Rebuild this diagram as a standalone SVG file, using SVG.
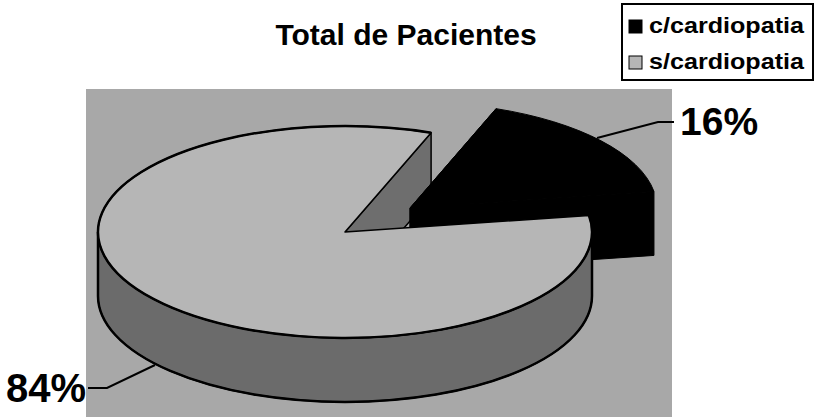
<svg xmlns="http://www.w3.org/2000/svg" width="819" height="420" viewBox="0 0 819 420">
<style>
.t{font-family:"Liberation Sans",Arial,sans-serif;font-weight:bold;fill:#000}
.edge{stroke:#000;stroke-width:1.5;stroke-linejoin:round}
.rim{fill:none;stroke:#000;stroke-width:2.5}
.lead{fill:none;stroke:#000;stroke-width:2}
</style>
<rect width="819" height="420" fill="#fff"/>
<g id="plot-area">
<rect x="86" y="89" width="586" height="328" fill="#a8a8a8"/>
</g>
<g id="title"><text class="t" x="406" y="45" font-size="30" text-anchor="middle">Total de Pacientes</text></g>
<g id="slice-sem">
<path class="edge" fill="#6e6e6e" d="M345,232 L431.1,132.65 L431.1,196.65 L345,296 Z"/>
</g>
<g id="slice-com">
<path fill="#000" stroke="#000" stroke-width="1" d="M410,208 L496.1,108.65 L496.1,172.65 L410,272 Z"/>
<path fill="#000" stroke="#000" stroke-width="1" d="M410,208 L653.96,191.42 L653.96,255.42 L410,272 Z"/>
<path fill="#000" stroke="#000" stroke-width="1" d="M410,208 L653.96,191.42 A247,106 0 0 0 496.1,108.65 Z"/>
</g>
<g id="slice-sem-body">
<path class="edge" fill="#6b6b6b" d="M592,232 A247,106 0 0 1 98,232 L98,296 A247,106 0 0 0 592,296 Z"/>
<path fill="none" stroke="#000" stroke-width="2.5" d="M98,232 L98,296 A247,106 0 0 0 592,296 L592,232"/>
<path class="edge" fill="#b6b6b6" d="M345,232 L588.96,215.42 A247,106 0 1 1 431.1,132.65 Z"/>
<path class="rim" d="M588.96,215.42 A247,106 0 1 1 431.1,132.65"/>
</g>
<g id="connectors">
<polyline class="lead" points="597,138 658,122 674,122"/>
<polyline class="lead" points="88,388 107,388 155,365"/>
</g>
<g id="label-16"><text class="t" x="680" y="135" font-size="39">16%</text></g>
<g id="label-84"><text class="t" x="6" y="402" font-size="40">84%</text></g>
<g id="legend">
<rect x="622" y="4" width="191" height="76" fill="#fff" stroke="#000" stroke-width="2"/>
<rect x="629" y="20" width="13" height="13" fill="#000" stroke="#000" stroke-width="1"/>
<rect x="629" y="56" width="13" height="13" fill="#b6b6b6" stroke="#000" stroke-width="1"/>
<text class="t" x="649" y="33" font-size="22" textLength="155" lengthAdjust="spacingAndGlyphs">c/cardiopatia</text>
<text class="t" x="649" y="69" font-size="22" textLength="155" lengthAdjust="spacingAndGlyphs">s/cardiopatia</text>
</g>
</svg>
